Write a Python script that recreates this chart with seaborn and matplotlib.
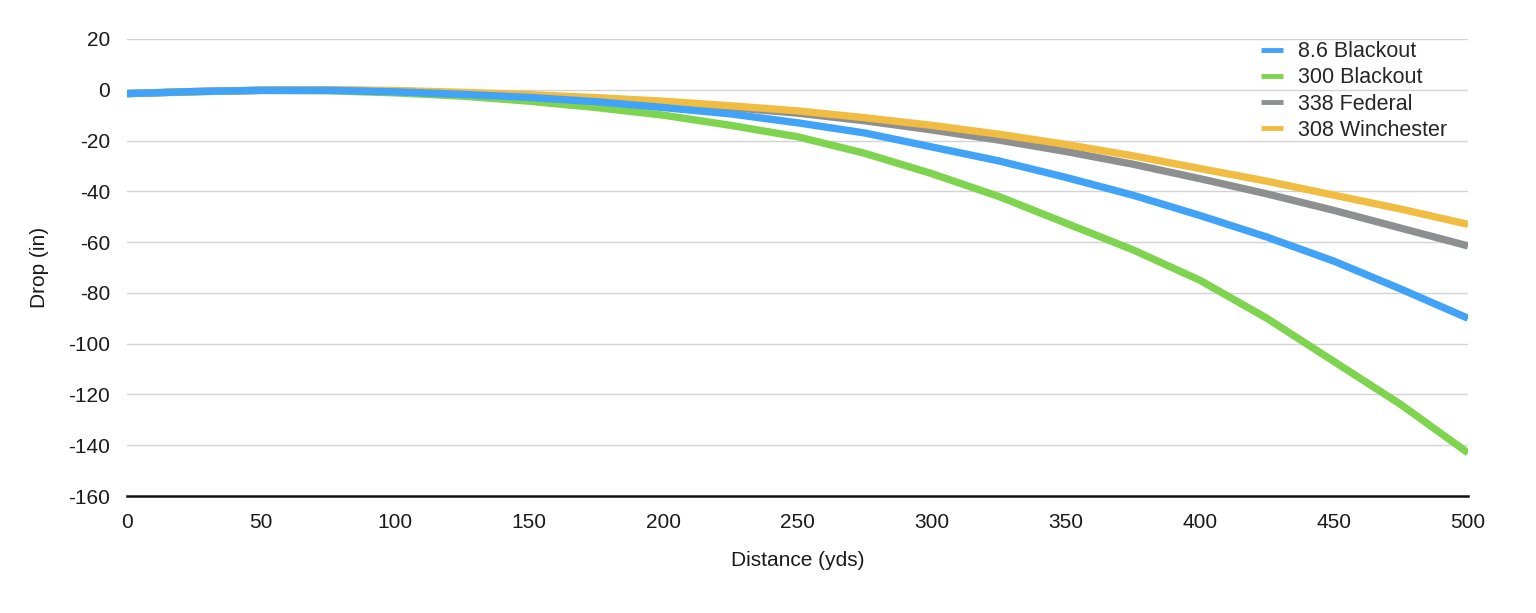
import matplotlib
matplotlib.use("Agg")
import matplotlib.pyplot as plt
import seaborn as sns
import pandas as pd

distance = [0, 25, 50, 75, 100, 125, 150, 175, 200, 225, 250, 275, 300,
            325, 350, 375, 400, 425, 450, 475, 500]

blackout_86 = [-1.5, -0.7, -0.2, -0.2, -0.8, -1.8, -3.0, -4.7, -7.0, -9.5, -13.0,
               -17.0, -22.5, -28.0, -34.5, -41.5, -49.5, -58.0, -67.5, -78.5, -90.0]
blackout_300 = [-1.5, -0.8, -0.3, -0.4, -1.2, -2.5, -4.5, -7.0, -10.0, -14.0, -18.5,
                -25.0, -33.0, -42.0, -52.5, -63.0, -75.0, -90.0, -107.0, -124.0, -143.0]
federal_338 = [-1.5, -0.7, -0.2, -0.1, -0.5, -1.3, -2.3, -3.6, -5.2, -7.0, -9.2,
               -12.2, -15.8, -19.8, -24.3, -29.3, -35.0, -41.0, -47.5, -54.5, -61.5]
winchester_308 = [-1.5, -0.7, -0.2, 0.0, -0.3, -1.0, -1.9, -3.1, -4.5, -6.3, -8.3,
                  -11.0, -14.0, -17.5, -21.5, -26.0, -31.0, -36.0, -41.5, -47.0, -53.0]

series_names = ["8.6 Blackout", "300 Blackout", "338 Federal", "308 Winchester"]
series_values = [blackout_86, blackout_300, federal_338, winchester_308]
colors = ["#40A3F7", "#7ED34F", "#8E8F90", "#F0BC42"]

x_ticks = [0, 50, 100, 150, 200, 250, 300, 350, 400, 450, 500]
y_ticks = [20, 0, -20, -40, -60, -80, -100, -120, -140, -160]

rows = []
for name, vals in zip(series_names, series_values):
    for d, v in zip(distance, vals):
        rows.append({"Distance": d, "Drop": v, "Cartridge": name})
df = pd.DataFrame(rows)

sns.set_theme(style="white")
plt.rcParams["font.family"] = ["Liberation Sans", "DejaVu Sans"]
plt.rcParams["axes.unicode_minus"] = False

fig = plt.figure(figsize=(15.36, 6.13), dpi=100)
ax = fig.add_axes([127 / 1536, 1 - 496 / 613, 1341 / 1536, 457 / 613])

sns.lineplot(data=df, x="Distance", y="Drop", hue="Cartridge",
             hue_order=series_names, palette=colors, linewidth=5.3,
             ax=ax, legend=True)

# blue on top
for line, z in zip(ax.get_lines(), [5, 2, 3, 4]):
    line.set_zorder(z)
    line.set_solid_capstyle("butt")
    line.set_solid_joinstyle("round")

ax.set_xlim(0, 500)
ax.set_ylim(-160, 20)
ax.set_xticks(x_ticks)
ax.set_yticks(y_ticks)
ax.tick_params(axis="both", length=0, labelsize=15, colors="#1a1a1a")
ax.tick_params(axis="y", pad=12)
ax.tick_params(axis="x", pad=12)
ax.yaxis.grid(True, color="#D3D3D3", linewidth=1.0)
ax.xaxis.grid(False)
ax.set_axisbelow(True)
for s in ["left", "right", "top"]:
    ax.spines[s].set_visible(False)
ax.spines["bottom"].set_color("#111111")
ax.spines["bottom"].set_linewidth(1.8)
ax.spines["bottom"].set_zorder(6)

ax.set_xlabel("Distance (yds)", fontsize=15, labelpad=14, color="#1a1a1a")
ax.set_ylabel("Drop (in)", fontsize=15, labelpad=14, color="#1a1a1a")

leg = ax.legend(loc="upper left", bbox_to_anchor=(0.846, 0.995), frameon=False,
                fontsize=15.5, borderpad=0, borderaxespad=0, handlelength=1.0,
                handletextpad=0.7, labelspacing=0.24)
for l in leg.get_lines():
    l.set_linewidth(3.5)
    l.set_solid_capstyle("butt")

fig.savefig("out.png", dpi=100)
